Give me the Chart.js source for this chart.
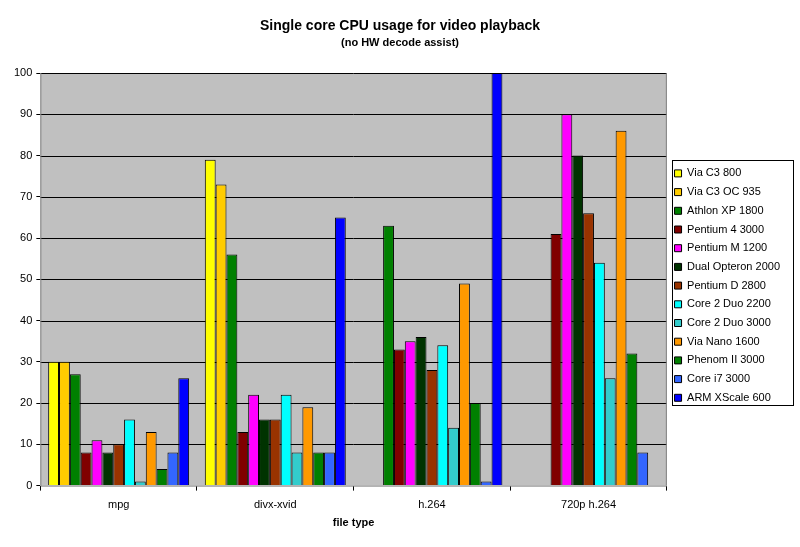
<!DOCTYPE html>
<html>
<head>
<meta charset="utf-8">
<script src="https://cdn.jsdelivr.net/npm/chart.js@4"></script>
<style>
  html, body { margin: 0; padding: 0; background: #fff; }
  #wrap { width: 800px; height: 547px; }
</style>
</head>
<body>
<div id="wrap"><canvas id="myChart" width="800" height="547"></canvas></div>
<script>
// file types on the x axis
const fileTypes = ['mpg', 'divx-xvid', 'h.264', '720p h.264'];

// one list per CPU: mpg, divx-xvid, h.264, 720p h.264 (null = not tested)
const viaC3_800     = [30, 79, null, null];
const viaC3_OC935   = [30, 73, null, null];
const athlonXP1800  = [27, 56, 63, null];
const pentium4_3000 = [8, 13, 33, 61];
const pentiumM1200  = [11, 22, 35, 90];
const dualOpteron   = [8, 16, 36, 80];
const pentiumD2800  = [10, 16, 28, 66];
const core2Duo2200  = [16, 22, 34, 54];
const core2Duo3000  = [1, 8, 14, 26];
const viaNano1600   = [13, 19, 49, 86];
const phenomII3000  = [4, 8, 20, 32];
const corei7_3000   = [8, 8, 1, 8];
const armXScale600  = [26, 65, 100, null];

const yTicks = [0, 10, 20, 30, 40, 50, 60, 70, 80, 90, 100];

const series = [
    ['Via C3 800', viaC3_800, '#FFFF00'],
    ['Via C3 OC 935', viaC3_OC935, '#FFCC00'],
    ['Athlon XP 1800', athlonXP1800, '#008000'],
    ['Pentium 4 3000', pentium4_3000, '#800000'],
    ['Pentium M 1200', pentiumM1200, '#FF00FF'],
    ['Dual Opteron 2000', dualOpteron, '#003300'],
    ['Pentium D 2800', pentiumD2800, '#993300'],
    ['Core 2 Duo 2200', core2Duo2200, '#00FFFF'],
    ['Core 2 Duo 3000', core2Duo3000, '#33CCCC'],
    ['Via Nano 1600', viaNano1600, '#FF9900'],
    ['Phenom II 3000', phenomII3000, '#008000'],
    ['Core i7 3000', corei7_3000, '#3366FF'],
    ['ARM XScale 600', armXScale600, '#0000FF']
];

// grey plot area + box round the legend, Excel style
const plotBox = {
    id: 'plotBox',
    beforeDatasetsDraw(chart) {
        const a = chart.chartArea, ctx = chart.ctx;
        ctx.save();
        ctx.fillStyle = '#C0C0C0';
        ctx.fillRect(a.left, a.top, a.right - a.left, a.bottom - a.top);
        // horizontal gridlines on top of the fill
        const y = chart.scales.y;
        ctx.strokeStyle = '#000';
        ctx.lineWidth = 1;
        yTicks.forEach(function(v) {
            if (v === 0) return;
            const py = Math.round(y.getPixelForValue(v)) + 0.5;
            ctx.beginPath();
            ctx.moveTo(a.left, py);
            ctx.lineTo(a.right, py);
            ctx.stroke();
        });
        ctx.strokeStyle = '#808080';
        ctx.beginPath();
        ctx.moveTo(a.left + 0.5, a.top);
        ctx.lineTo(a.left + 0.5, a.bottom + 0.5);
        ctx.lineTo(a.right, a.bottom + 0.5);
        ctx.moveTo(a.right - 0.5, a.top);
        ctx.lineTo(a.right - 0.5, a.bottom);
        ctx.stroke();
        ctx.restore();
    },
    afterDraw(chart) {
        const ctx = chart.ctx;
        ctx.save();
        ctx.strokeStyle = '#000';
        ctx.lineWidth = 1;
        ctx.strokeRect(672.5, 160.5, 121, 245);
        ctx.restore();
    }
};

const canvas = document.getElementById('myChart');
const myChart = new Chart(canvas, {
    type: 'bar',
    data: {
        labels: fileTypes,
        datasets: series.map(function(s) {
            return {
                label: s[0],
                data: s[1],
                backgroundColor: s[2],
                borderColor: '#000',
                borderWidth: 1,
                categoryPercentage: 0.9,
                barPercentage: 1.0
            };
        })
    },
    options: {
        responsive: false,
        animation: false,
        layout: { padding: { left: 10, right: 10, top: 4, bottom: 17 } },
        plugins: {
            title: {
                display: true,
                text: 'Single core CPU usage for video playback',
                color: '#000',
                font: { family: 'Liberation Sans', size: 14, weight: 'bold' },
                padding: { top: 14, bottom: 2 }
            },
            subtitle: {
                display: true,
                text: '(no HW decode assist)',
                color: '#000',
                font: { family: 'Liberation Sans', size: 11, weight: 'bold' },
                padding: { bottom: 23 }
            },
            legend: {
                position: 'right',
                title: { display: true, text: '', padding: { top: 24, bottom: 0 }, font: { size: 11 } },
                labels: {
                    color: '#000',
                    font: { family: 'Liberation Sans', size: 11 },
                    boxWidth: 7,
                    boxHeight: 7,
                    padding: 7.7
                }
            },
            tooltip: { enabled: false }
        },
        scales: {
            x: {
                grid: { display: true, drawOnChartArea: false, color: '#000', tickLength: 5 },
                border: { display: false },
                ticks: { color: '#000', font: { family: 'Liberation Sans', size: 11 }, padding: 8 },
                title: {
                    display: true,
                    text: 'file type',
                    color: '#000',
                    font: { family: 'Liberation Sans', size: 11, weight: 'bold' },
                    padding: { top: -3, bottom: 0 }
                }
            },
            y: {
                min: 0,
                max: 100,
                afterBuildTicks(axis) { axis.ticks = yTicks.map(function(v) { return { value: v }; }); },
                grid: { display: true, drawOnChartArea: false, color: '#000', tickLength: 4 },
                border: { display: false },
                ticks: { color: '#000', font: { family: 'Liberation Sans', size: 11 }, padding: 4 }
            }
        }
    },
    plugins: [plotBox]
});
</script>
</body>
</html>
